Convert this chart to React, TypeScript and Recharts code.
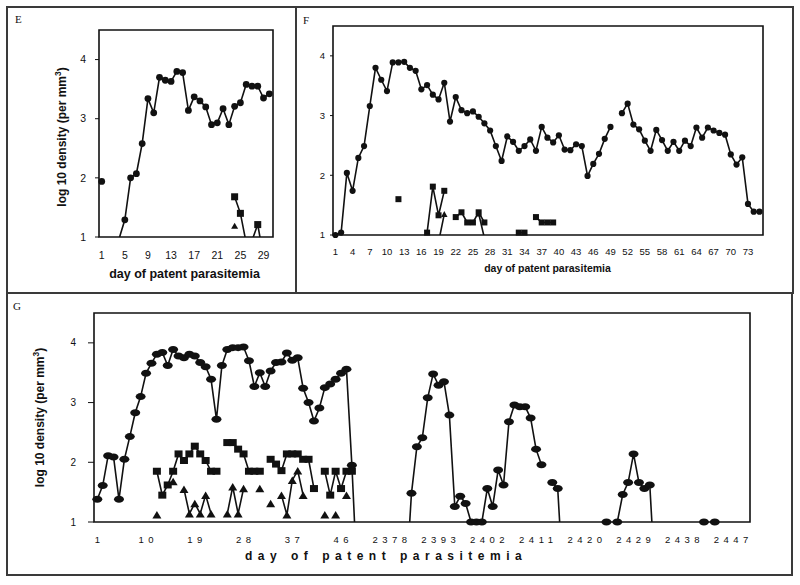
import React from 'react';
import { LineChart, Line, XAxis, YAxis, ReferenceArea } from 'recharts';

type Num = number | null;

const SANS = "'Liberation Sans', Arial, Helvetica, sans-serif";
const SERIF = "'Liberation Serif', 'Times New Roman', serif";
const INK = '#111';

// shared y scale (log10 parasite density per mm3)
const yTicks = [1, 2, 3, 4];
const yTop = 4.5;

// ---------- panel E ----------
const eDays = Array.from({ length: 30 }, (_, i) => i + 1);
const eTicks = [1, 5, 9, 13, 17, 21, 25, 29];
const eCircle: Num[] = [
  1.94, null, null, 0.97, 1.29, 2.0, 2.07, 2.58, 3.34, 3.1,
  3.7, 3.65, 3.63, 3.8, 3.78, 3.14, 3.37, 3.3, 3.2, 2.9,
  2.93, 3.17, 2.9, 3.21, 3.27, 3.58, 3.55, 3.55, 3.35, 3.42,
];
const eSquare: Num[] = [
  null, null, null, null, null, null, null, null, null, null,
  null, null, null, null, null, null, null, null, null, null,
  null, null, null, 1.68, 1.4, 0.9, 0.94, 1.21, 0.66, null,
];
const eTriangle: Num[] = [
  null, null, null, null, null, null, null, null, null, null,
  null, null, null, null, null, null, null, null, null, null,
  null, null, null, 1.19,
];

// ---------- panel F ----------
const fDays = Array.from({ length: 75 }, (_, i) => i + 1);
const fTicks = Array.from({ length: 25 }, (_, i) => 1 + i * 3);
const fCircle: Num[] = [
  1.0, 1.04, 2.04, 1.74, 2.29, 2.49, 3.16, 3.8, 3.6, 3.41,
  3.89, 3.89, 3.9, 3.8, 3.75, 3.44, 3.51, 3.35, 3.27, 3.55,
  2.9, 3.31, 3.09, 3.04, 3.07, 2.98, 2.87, 2.75, 2.49, 2.24,
  2.65, 2.56, 2.41, 2.49, 2.6, 2.41, 2.81, 2.63, 2.55, 2.67,
  2.43, 2.42, 2.52, 2.49, 1.99, 2.19, 2.36, 2.61, 2.81, null,
  3.04, 3.2, 2.85, 2.77, 2.58, 2.41, 2.76, 2.59, 2.41, 2.56,
  2.41, 2.58, 2.49, 2.8, 2.63, 2.8, 2.75, 2.71, 2.68, 2.35,
  2.18, 2.3, 1.52, 1.39, 1.39,
];
const fSquare: Num[] = [
  null, null, null, null, null, null, null, null, null, null,
  null, 1.6, null, null, null, null, 1.04, 1.81, 1.33, 1.74,
  null, 1.3, 1.38, 1.21, 1.21, 1.38, 1.21, null, null, null,
  null, null, 1.04, 1.04, null, 1.3, 1.21, 1.21, 1.21,
];
const fTriangle: Num[] = [
  null, null, null, null, null, null, null, null, null, null,
  null, null, null, null, null, null, null, null, 0.88, 1.35,
  null, null, null, null, null, 1.36, 0.95,
];

// ---------- panel G (category index; the axis jumps from day 48 to day 2378) ----------
const gTickLabels = ['1', '10', '19', '28', '37', '46', '2378', '2393', '2402', '2411', '2420', '2429', '2438', '2447'];
const gCircle: Num[] = [
  1.38, 1.61, 2.11, 2.09, 1.38, 2.05, 2.43, 2.83, 3.1, 3.49,
  3.66, 3.81, 3.84, 3.62, 3.89, 3.78, 3.75, 3.81, 3.78, 3.67,
  3.6, 3.39, 2.72, 3.62, 3.89, 3.92, 3.92, 3.93, 3.7, 3.27,
  3.5, 3.27, 3.53, 3.67, 3.68, 3.83, 3.71, 3.75, 3.24, 3.0,
  2.69, 2.91, 3.25, 3.31, 3.39, 3.49, 3.56, 1.95, 0, null,
  null, null, null, null, null, null, null, 0, 1.48, 2.26,
  2.41, 3.08, 3.48, 3.29, 3.35, 2.79, 1.26, 1.43, 1.31, 1.0,
  1.0, 1.0, 1.56, 1.26, 1.87, 1.62, 2.68, 2.96, 2.93, 2.93,
  2.74, 2.22, 1.96, null, 1.66, 1.56, 0, null, null, null,
  null, null, null, null, 1.0, null, 1.0, 1.46, 1.66, 2.14,
  1.66, 1.56, 1.62, 0, null, null, null, null, null, null,
  null, null, 1.0, null, 1.0,
];
const gSquare: Num[] = [
  null, null, null, null, null, null, null, null, null, null,
  null, 1.85, 1.45, 1.62, 1.85, 2.14, 2.03, 2.14, 2.27, 2.14,
  2.03, 1.85, 1.85, null, 2.33, 2.33, 2.22, 2.14, 1.85, 1.85,
  1.85, null, 2.05, 1.97, 1.86, 2.14, 2.14, 2.14, 2.05, 2.05,
  1.56, null, 1.85, 1.45, 1.85, 1.56, 1.85, 1.85,
];
const gTriangle: Num[] = [
  null, null, null, null, null, null, null, null, null, null,
  null, 1.12, null, null, 1.68, null, 1.55, 1.14, 1.31, 1.14,
  1.45, 1.14, null, null, 1.14, 1.59, 1.14, 1.56, null, null,
  1.56, null, 1.31, null, 1.45, 1.12, 1.7, 1.86, 1.45, null,
  null, null, 1.12, null, 1.12, null, 1.45,
];
const gIndex = gCircle.map((_, i) => i);
const gTicks = gTickLabels.map((_, i) => i * 9);

interface Row {
  x: number;
  c: Num; s: Num; t: Num;
  cm: Num; sm: Num; tm: Num;
}

// markers only for points inside the y range; the lines themselves run below and get clipped
const shown = (v: Num | undefined) => (v != null && v >= 1 ? v : null);

function buildRows(xs: number[], c: Num[], s: Num[], t: Num[]): Row[] {
  return xs.map((x, i) => ({
    x,
    c: c[i] ?? null,
    s: s[i] ?? null,
    t: t[i] ?? null,
    cm: shown(c[i]),
    sm: shown(s[i]),
    tm: shown(t[i]),
  }));
}

const eRows = buildRows(eDays, eCircle, eSquare, eTriangle);
const fRows = buildRows(fDays, fCircle, fSquare, fTriangle);
const gRows = buildRows(gIndex, gCircle, gSquare, gTriangle);

type Kind = 'c' | 's' | 't';

function marker(kind: Kind, w: number, h: number) {
  return (p: any) => {
    const { cx, cy, value, index } = p;
    const key = `${kind}-${index}`;
    if (value == null || cx == null || cy == null) return <g key={key} />;
    if (kind === 'c') return <ellipse key={key} cx={cx} cy={cy} rx={w / 2} ry={h / 2} fill={INK} />;
    if (kind === 's') return <rect key={key} x={cx - w / 2} y={cy - h / 2} width={w} height={h} fill={INK} />;
    return (
      <path key={key} d={`M${cx},${cy - h / 2}L${cx + w / 2},${cy + h / 2}L${cx - w / 2},${cy + h / 2}Z`} fill={INK} />
    );
  };
}

function XTick(props: any) {
  const { x, y, payload, size, ls = 0, fmt } = props;
  const v = payload?.value;
  return (
    <text x={x + ls / 2} y={y} dy="0.71em" textAnchor="middle" fontFamily={SANS} fontSize={size} letterSpacing={ls} fill={INK}>
      {fmt ? fmt(v) : String(v)}
    </text>
  );
}

function Title(props: any) {
  const { tx, ty, text, sup, size, spacing = 0, vertical = false, anchor = 'middle' } = props;
  const tail = sup ? (
    <>
      <tspan dy={-size * 0.4} fontSize={size * 0.7}>{sup}</tspan>
      <tspan dy={size * 0.4}>)</tspan>
    </>
  ) : null;
  if (vertical) {
    return (
      <text transform={`translate(${tx},${ty}) rotate(-90)`} x={0} y={size * 0.35} textAnchor="middle"
        fontFamily={SANS} fontWeight="bold" fontSize={size} fill={INK}>
        {text}
        {tail}
      </text>
    );
  }
  return (
    <text x={tx} y={ty} textAnchor={anchor} fontFamily={SANS} fontWeight="bold" fontSize={size} letterSpacing={spacing} fill={INK}>
      {text}
      {tail}
    </text>
  );
}

interface PanelProps {
  left: number; top: number; width: number; height: number;
  marginTop: number; marginRight: number;
  yWidth: number; xHeight: number;
  rows: Row[];
  xDomain: [number, number];
  xTicks: number[];
  xTick: React.ReactElement;
  xTickMargin: number;
  yTickSize: number; yTickMargin: number; yFont: number;
  xTitle: React.ReactElement;
  yTitle?: React.ReactElement;
  sizes: Record<Kind, [number, number]>;
}

function Panel(p: PanelProps) {
  const lineKeys: Kind[] = ['t', 's', 'c'];
  return (
    <div style={{ position: 'absolute', left: p.left, top: p.top }}>
      <LineChart width={p.width} height={p.height} data={p.rows}
        margin={{ top: p.marginTop, right: p.marginRight, bottom: 0, left: 0 }}>
        <XAxis dataKey="x" type="number" domain={p.xDomain} ticks={p.xTicks} interval={0}
          axisLine={false} tickLine={false} tickSize={0} tickMargin={p.xTickMargin}
          tick={p.xTick} height={p.xHeight} label={p.xTitle} />
        <YAxis yAxisId="v" type="number" domain={[1, yTop]} allowDataOverflow ticks={yTicks} interval={0}
          axisLine={false} tickLine={{ stroke: INK, strokeWidth: 1 }} tickSize={p.yTickSize} tickMargin={p.yTickMargin}
          width={p.yWidth} tick={{ fill: INK, fontSize: p.yFont, fontFamily: SANS }} label={p.yTitle} />
        <YAxis yAxisId="m" orientation="right" hide width={0} type="number" domain={[1, yTop]} />
        <ReferenceArea yAxisId="v" x1={p.xDomain[0]} x2={p.xDomain[1]} y1={1} y2={yTop}
          fill="none" stroke={INK} strokeWidth={1.6} />
        {lineKeys.map((k) => (
          <Line key={k} yAxisId="v" type="linear" dataKey={k} stroke={INK} strokeWidth={1.6}
            dot={false} activeDot={false} connectNulls={false} isAnimationActive={false} />
        ))}
        {lineKeys.map((k) => (
          <Line key={k + 'm'} yAxisId="m" type="linear" dataKey={k + 'm'} stroke="none"
            dot={marker(k, p.sizes[k][0], p.sizes[k][1])} activeDot={false} isAnimationActive={false} />
        ))}
      </LineChart>
    </div>
  );
}

const frames = [
  { id: 'E', left: 6, top: 6, width: 291, height: 288, lx: 15, ly: 14 },
  { id: 'F', left: 295, top: 6, width: 499, height: 288, lx: 303, ly: 15 },
  { id: 'G', left: 6, top: 292, width: 787, height: 284, lx: 13, ly: 301 },
];

const yTitleText = 'log 10 density (per mm';

export default function App() {
  return (
    <div style={{ position: 'absolute', left: 0, top: 0, width: 800, height: 585, background: '#fff', overflow: 'hidden' }}>
      {frames.map((f) => (
        <div key={f.id} style={{
          position: 'absolute', left: f.left, top: f.top, width: f.width, height: f.height,
          border: '2px solid #3a3a3a', boxSizing: 'border-box',
        }} />
      ))}
      {frames.map((f) => (
        <div key={f.id + 'l'} style={{
          position: 'absolute', left: f.lx, top: f.ly, fontFamily: SERIF, fontSize: 11, lineHeight: '11px', color: INK,
        }}>{f.id}</div>
      ))}

      <Panel left={7} top={7} width={289} height={286} marginTop={23} marginRight={23}
        yWidth={92} xHeight={56} rows={eRows} xDomain={[0.53, 30.64]} xTicks={eTicks}
        xTick={<XTick size={10.5} />} xTickMargin={15}
        yTickSize={4} yTickMargin={9} yFont={10.5}
        xTitle={<Title tx={177.5} ty={271} text="day of patent parasitemia" size={12.5} />}
        yTitle={<Title tx={54.7} ty={130} vertical text={yTitleText} sup="3" size={12} />}
        sizes={{ c: [6.8, 6.8], s: [7, 7], t: [7, 6] }} />

      <Panel left={296} top={7} width={497} height={286} marginTop={19} marginRight={30}
        yWidth={37} xHeight={58} rows={fRows} xDomain={[0.58, 75.62]} xTicks={fTicks}
        xTick={<XTick size={9.5} />} xTickMargin={13}
        yTickSize={3} yTickMargin={5} yFont={9.5}
        xTitle={<Title tx={251.5} ty={264.7} text="day of patent parasitemia" size={10.5} />}
        sizes={{ c: [6.2, 6.2], s: [6, 6], t: [6.5, 6] }} />

      <Panel left={7} top={293} width={785} height={282} marginTop={20} marginRight={42}
        yWidth={87} xHeight={53} rows={gRows} xDomain={[-0.61, 120.5]} xTicks={gTicks}
        xTick={<XTick size={9.5} ls={4.5} fmt={(v: number) => gTickLabels[Math.round(v / 9)]} />} xTickMargin={14}
        yTickSize={6} yTickMargin={12} yFont={10}
        xTitle={<Title tx={238} ty={267} anchor="start" text="day of patent parasitemia" size={12} spacing={5.5} />}
        yTitle={<Title tx={33} ty={124.5} vertical text={yTitleText} sup="3" size={12} />}
        sizes={{ c: [10, 7], s: [8, 7], t: [9, 7.5] }} />
    </div>
  );
}
